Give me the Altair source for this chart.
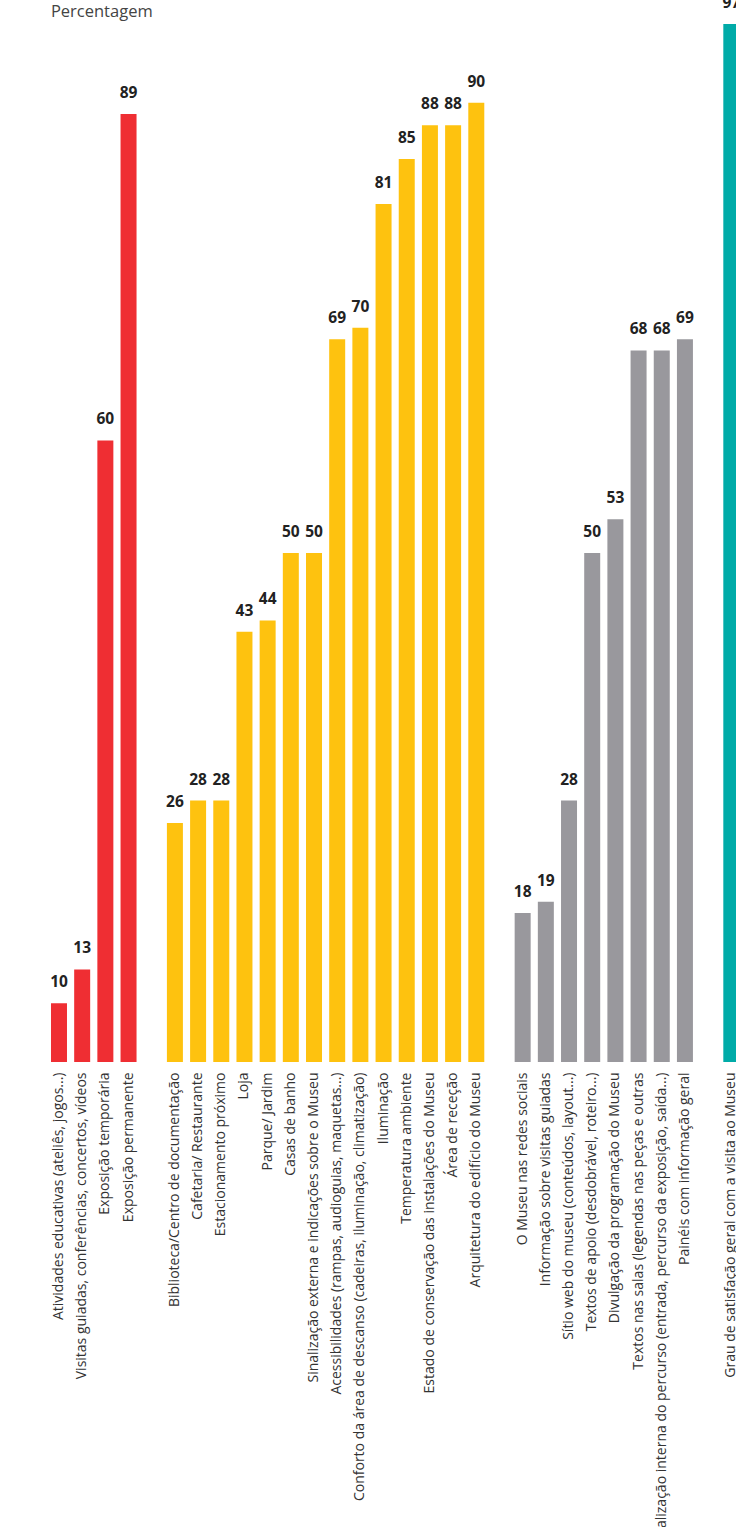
import altair as alt
import pandas as pd

red_labels = ["Atividades educativas (ateliês, jogos...)",
              "Visitas guiadas, conferências, concertos, vídeos",
              "Exposição temporária",
              "Exposição permanente"]
red_values = [10, 13, 60, 89]

yellow_labels = ["Biblioteca/Centro de documentação",
                 "Cafetaria/ Restaurante",
                 "Estacionamento próximo",
                 "Loja",
                 "Parque/ Jardim",
                 "Casas de banho",
                 "Sinalização externa e indicações sobre o Museu",
                 "Acessibilidades (rampas, audioguias, maquetas...)",
                 "Conforto da área de descanso (cadeiras, iluminação, climatização)",
                 "Iluminação",
                 "Temperatura ambiente",
                 "Estado de conservação das instalações do Museu",
                 "Área de receção",
                 "Arquitetura do edifício do Museu"]
yellow_values = [26, 28, 28, 43, 44, 50, 50, 69, 70, 81, 85, 88, 88, 90]

gray_labels = ["O Museu nas redes sociais",
               "Informação sobre visitas guiadas",
               "Sítio web do museu (conteúdos, layout...)",
               "Textos de apoio (desdobrável, roteiro...)",
               "Divulgação da programação do Museu",
               "Textos nas salas (legendas nas peças e outras",
               "Sinalização interna do percurso (entrada, percurso da exposição, saída...)",
               "Painéis com informação geral"]
gray_values = [18, 19, 28, 50, 53, 68, 68, 69]

teal_labels = ["Grau de satisfação geral com a visita ao Museu"]
teal_values = [97]

groups = ["red", "yellow", "gray", "teal"]
colors = ["#EF2E33", "#FEC20F", "#99989D", "#00ABA8"]
gaps = [" ", "  ", "   "]

rows = []
for g, labs, vals in zip(groups, [red_labels, yellow_labels, gray_labels, teal_labels],
                         [red_values, yellow_values, gray_values, teal_values]):
    for l, v in zip(labs, vals):
        rows.append({"cat": l, "value": v, "group": g})
df = pd.DataFrame(rows)

order = red_labels + [gaps[0]] + yellow_labels + [gaps[1]] + gray_labels + [gaps[2]] + teal_labels

x = alt.X("cat:N", sort=order,
          scale=alt.Scale(domain=order, paddingInner=0.31, paddingOuter=0.155, range=[0, 695.5]),
          axis=alt.Axis(title=None, labelAngle=270, ticks=False, domain=False, labelPadding=10,
                        labelFontSize=14, labelFont="Open Sans", labelColor="#333333",
                        labelLimit=2000, labelOverlap=False))
y = alt.Y("value:Q", scale=alt.Scale(domain=[4.77, 97], zero=False, clamp=True, nice=False),
          axis=alt.Axis(title="Percentagem", titleAngle=0, titleX=3, titleY=-8,
                        titleAlign="left", titleBaseline="alphabetic", titleFont="Open Sans",
                        titleFontSize=16.5, titleFontWeight="normal", titleColor="#444444",
                        labels=False, ticks=False, domain=False, grid=False))

base = alt.Chart(df).encode(x=x, y=y)

bars = base.mark_bar().encode(
    color=alt.Color("group:N", scale=alt.Scale(domain=groups, range=colors), legend=None)
)
texts = base.mark_text(baseline="alphabetic", dy=-16, fontSize=15.5, fontWeight="bold",
                       font="Open Sans", color="#222222").encode(text="value:Q")

chart = alt.layer(bars, texts).properties(
    width=688.6, height=1038,
    padding={"left": 47.4, "top": 24, "right": 0, "bottom": 465},
    autosize=alt.AutoSizeParams(type="none"),
).configure_view(stroke=None)

chart.save("out.html", embed_options={"renderer": "svg", "actions": False})
